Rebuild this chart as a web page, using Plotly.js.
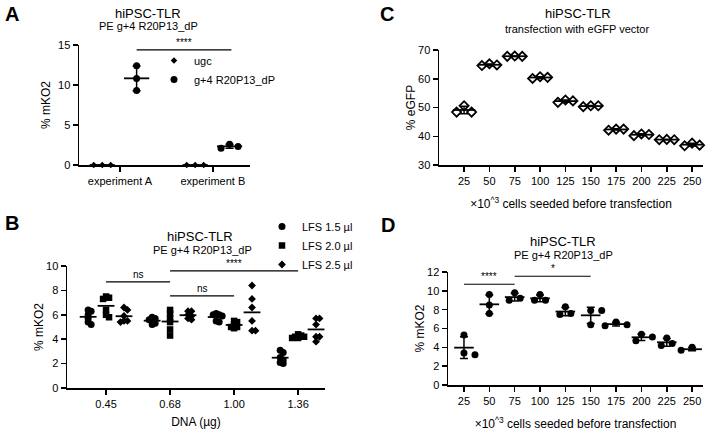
<!DOCTYPE html>
<html><head><meta charset="utf-8">
<script src="https://cdn.plot.ly/plotly-3.0.1.min.js"></script>
<style>html,body{margin:0;padding:0;background:#fff}#chart{width:708px;height:431px}</style>
</head><body><div id="chart"></div>
<script>
// ---------- DATA ----------
// Panel A
const aCategories = ['experiment A', 'experiment B'];
const aUgc = [[0, 0, 0], [0, 0, 0]];
const aG4 = [[12.4, 10.8, 9.3], [2.1, 2.6, 2.3]];
// Panel B
const bCategories = ['0.45', '0.68', '1.00', '1.36'];
const bLFS15 = [[6.4, 6.3, 6.0, 5.7, 5.4, 5.2], [5.8, 5.7, 5.6, 5.5, 5.3, 5.2], [6.1, 6.0, 6.0, 5.9, 5.5, 5.4], [3.1, 2.9, 2.5, 2.3, 2.1, 2.0]];
const bLFS20 = [[7.5, 7.4, 7.3, 6.4, 6.0, 5.8], [6.4, 6.1, 5.7, 5.4, 4.8, 4.3], [5.5, 5.4, 5.2, 5.0, 5.0, 4.9], [4.4, 4.3, 4.2, 4.2, 4.1, 4.1]];
const bLFS25 = [[6.6, 6.4, 5.9, 5.5, 5.5, 5.4], [6.3, 6.3, 6.0, 5.9, 5.7, 5.6], [8.4, 7.3, 6.6, 5.5, 4.7, 4.7], [5.7, 5.7, 5.2, 4.2, 4.2, 3.8]];
// Panel C
const cCategories = ['25', '50', '75', '100', '125', '150', '175', '200', '225', '250'];
const cEGFP = [[48.4, 50.6, 48.4], [64.6, 65.2, 64.8], [67.8, 67.9, 67.8], [60.1, 60.7, 60.5], [51.8, 52.6, 52.3], [50.3, 50.6, 50.6], [42.1, 42.5, 42.5], [40.2, 40.8, 40.6], [38.8, 38.9, 38.8], [36.7, 37.6, 36.9]];
// Panel D
const dCategories = ['25', '50', '75', '100', '125', '150', '175', '200', '225', '250'];
const dMKO2 = [[5.3, 3.2, 3.4], [9.6, 8.5, 7.6], [9.8, 9.0, 9.2], [9.6, 9.0, 9.0], [8.3, 7.5, 7.6], [7.9, 7.9, 6.4], [6.7, 6.3, 6.4], [5.4, 5.1, 4.7], [5.0, 4.2, 4.4], [4.0, 3.7, 3.7]];

// ---------- HELPERS ----------
const W = 708, H = 431;
const FONT = 'Arial, "Liberation Sans", sans-serif';
const mean = a => a.reduce((s, v) => s + v, 0) / a.length;
const sd = a => { const m = mean(a); return Math.sqrt(a.reduce((s, v) => s + (v - m) * (v - m), 0) / (a.length - 1)); };

const ax = {
  x:  {dom: [79, 250],  range: [-0.44, 1.40]},
  y:  {dom: [165, 45],  range: [0, 15]},
  x2: {dom: [67, 325],  range: [-0.61, 3.42]},
  y2: {dom: [388, 266], range: [0, 10]},
  x3: {dom: [439, 703], range: [-0.99, 9.43]},
  y3: {dom: [165, 50],  range: [30, 70]},
  x4: {dom: [448, 703], range: [-0.63, 9.43]},
  y4: {dom: [385, 272], range: [0, 12]}
};
const pxPerX = k => (ax[k].dom[1] - ax[k].dom[0]) / (ax[k].range[1] - ax[k].range[0]);
const pxPerY = k => (ax[k].dom[0] - ax[k].dom[1]) / (ax[k].range[1] - ax[k].range[0]);

// simple beeswarm placement in pixel space
function swarm(vals, center, xk, yk, diam, step) {
  const px = pxPerX(xk), py = pxPerY(yk);
  const order = vals.map((v, i) => i).sort((a, b) => vals[b] - vals[a]);
  const placed = [], xs = new Array(vals.length);
  const cands = [0];
  for (let j = 1; j < 12; j++) cands.push(j * step, -j * step);
  for (const i of order) {
    const yp = vals[i] * py;
    let off = 0;
    for (const c of cands) {
      if (placed.every(p => Math.hypot(p.x - c, p.y - yp) >= diam)) { off = c; break; }
    }
    placed.push({x: off, y: yp});
    xs[i] = center + off / px;
  }
  return xs;
}

const traces = [];
function addGroup(groups, offset, xk, yk, opt) {
  const X = [], Y = [];
  groups.forEach((g, ci) => {
    const xs = swarm(g, ci + offset, xk, yk, opt.diam, opt.step);
    X.push(...xs); Y.push(...g);
  });
  const pts = {
    type: 'scatter', mode: 'markers', x: X, y: Y, xaxis: xk, yaxis: yk, cliponaxis: false,
    showlegend: !!opt.name, marker: opt.marker, hoverinfo: 'y'
  };
  if (opt.name) { pts.name = opt.name; pts.legend = opt.legend; }
  traces.push(pts);
  const mx = groups.map((g, ci) => ci + offset);
  const my = groups.map(mean);
  const tr = {
    type: 'scatter', mode: 'markers', x: mx, y: my, xaxis: xk, yaxis: yk, cliponaxis: false,
    showlegend: false, hoverinfo: 'y',
    marker: {symbol: 'line-ew', size: opt.meanW, line: {width: 1.8, color: '#000'}}
  };
  if (opt.sd) tr.error_y = {type: 'data', array: groups.map(sd), visible: true, color: '#000', thickness: 1.5, width: opt.cap};
  traces.push(tr);
}

// Panel A
addGroup(aUgc, -0.19, 'x', 'y', {diam: 6, step: 8.5, name: 'ugc', legend: 'legend', meanW: 18, sd: true, cap: 4,
  marker: {symbol: 'diamond', size: 5, color: '#000'}});
addGroup(aG4, 0.18, 'x', 'y', {diam: 6, step: 8.5, name: 'g+4 R20P13_dP', legend: 'legend', meanW: 18, sd: true, cap: 4,
  marker: {symbol: 'circle', size: 7, color: '#000'}});
// Panel B
addGroup(bLFS15, -0.28, 'x2', 'y2', {diam: 3, step: 3, name: 'LFS 1.5 µl', legend: 'legend2', meanW: 12, sd: false,
  marker: {symbol: 'circle', size: 7, color: '#000'}});
addGroup(bLFS20, 0, 'x2', 'y2', {diam: 3, step: 3, name: 'LFS 2.0 µl', legend: 'legend2', meanW: 12, sd: false,
  marker: {symbol: 'square', size: 6.5, color: '#000'}});
addGroup(bLFS25, 0.28, 'x2', 'y2', {diam: 3, step: 3.5, name: 'LFS 2.5 µl', legend: 'legend2', meanW: 12, sd: false,
  marker: {symbol: 'diamond', size: 6, color: '#000'}});
// Panel C
addGroup(cEGFP, 0, 'x3', 'y3', {diam: 7, step: 7.5, meanW: 16, sd: true, cap: 4,
  marker: {symbol: 'diamond', size: 7, color: '#fff', line: {color: '#000', width: 1.8}}});
// Panel D
addGroup(dMKO2, 0, 'x4', 'y4', {diam: 7, step: 5.5, meanW: 14, sd: true, cap: 4,
  marker: {symbol: 'circle', size: 7, color: '#000'}});

// ---------- LAYOUT ----------
function xAxis(k, cats, anchor, title, standoff) {
  const o = {
    domain: [ax[k].dom[0] / W, ax[k].dom[1] / W], range: ax[k].range, anchor: anchor,
    tickmode: 'array', tickvals: cats.map((c, i) => i), ticktext: cats,
    showline: true, linecolor: '#000', linewidth: 1.5, ticks: 'outside', ticklen: 5, tickwidth: 1.5, tickcolor: '#000',
    showgrid: false, zeroline: false, fixedrange: true,
    tickfont: {family: FONT, size: 11, color: '#000'}
  };
  if (title) o.title = {text: title, font: {family: FONT, size: 12, color: '#000'}, standoff: standoff};
  return o;
}
function yAxis(k, anchor, dtick, title, standoff) {
  return {
    domain: [1 - ax[k].dom[0] / H, 1 - ax[k].dom[1] / H], range: ax[k].range, anchor: anchor,
    dtick: dtick, tick0: 0,
    showline: true, linecolor: '#000', linewidth: 1.5, ticks: 'outside', ticklen: 5, tickwidth: 1.5, tickcolor: '#000',
    showgrid: false, zeroline: false, fixedrange: true,
    tickfont: {family: FONT, size: 11, color: '#000'},
    title: {text: title, font: {family: FONT, size: 12, color: '#000'}, standoff: standoff}
  };
}

function txt(x, y, text, size, opts) {
  return Object.assign({xref: 'paper', yref: 'paper', x: x / W, y: 1 - y / H, text: text, showarrow: false,
    font: {family: FONT, size: size, color: '#000'}, xanchor: 'center', yanchor: 'middle'}, opts || {});
}
function star(xr, yr, x, y, text) {
  return {xref: xr, yref: yr, x: x, y: y, text: text, showarrow: false, yanchor: 'bottom',
    font: {family: FONT, size: 10, color: '#000'}};
}
function bar(xr, yr, x0, x1, y) {
  return {type: 'line', xref: xr, yref: yr, x0: x0, x1: x1, y0: y, y1: y, line: {color: '#000', width: 1.2}};
}

const layout = {
  width: W, height: H, margin: {l: 0, r: 0, t: 0, b: 0},
  paper_bgcolor: '#fff', plot_bgcolor: 'rgba(0,0,0,0)',
  font: {family: FONT, color: '#000'},
  xaxis: xAxis('x', aCategories, 'y'),
  yaxis: yAxis('y', 'x', 5, '% mKO2', 5),
  xaxis2: xAxis('x2', bCategories, 'y2', 'DNA (µg)', 9),
  yaxis2: yAxis('y2', 'x2', 2, '% mKO2', 0),
  xaxis3: xAxis('x3', cCategories, 'y3', '×10<sup>^3</sup> cells seeded before transfection', 14),
  yaxis3: yAxis('y3', 'x3', 10, '% eGFP', 0),
  xaxis4: xAxis('x4', dCategories, 'y4', '×10<sup>^3</sup> cells seeded before transfection', 15),
  yaxis4: yAxis('y4', 'x4', 2, '% mKO2', 0),
  legend: {x: 154 / W, y: 1 - 46 / H, xanchor: 'left', yanchor: 'top', bgcolor: 'rgba(0,0,0,0)',
    font: {family: FONT, size: 11, color: '#000'}, itemclick: false, itemdoubleclick: false},
  legend2: {x: 262 / W, y: 1 - 212 / H, xanchor: 'left', yanchor: 'top', bgcolor: 'rgba(0,0,0,0)',
    font: {family: FONT, size: 11, color: '#000'}, itemclick: false, itemdoubleclick: false},
  shapes: [
    bar('x', 'y', 0.18, 1.2, 14.4),
    bar('x2', 'y2', 0, 1, 8.7),
    bar('x2', 'y2', 1, 3, 9.6),
    bar('x2', 'y2', 1, 2, 7.55),
    bar('x4', 'y4', 0, 2, 10.7),
    bar('x4', 'y4', 2, 5, 11.55)
  ],
  annotations: [
    txt(12, 14, '<b>A</b>', 20),
    txt(12, 223, '<b>B</b>', 20),
    txt(387, 14, '<b>C</b>', 20),
    txt(388, 225, '<b>D</b>', 20),
    txt(148, 13, 'hiPSC-TLR', 13),
    txt(148, 26, 'PE g+4 R20P13_dP', 11),
    txt(200, 236, 'hiPSC-TLR', 13),
    txt(202, 249.5, 'PE g+4 R20P13_dP', 11),
    txt(578, 14, 'hiPSC-TLR', 13),
    txt(577, 29, 'transfection with eGFP vector', 11),
    txt(563, 241, 'hiPSC-TLR', 13),
    txt(563, 254.5, 'PE g+4 R20P13_dP', 11),
    star('x', 'y', 0.69, 14.4, '****'),
    star('x2', 'y2', 0.5, 8.7, 'ns'),
    star('x2', 'y2', 2, 9.6, '****'),
    star('x2', 'y2', 1.5, 7.55, 'ns'),
    star('x4', 'y4', 1, 10.7, '****'),
    star('x4', 'y4', 3.5, 11.55, '*')
  ]
};

Plotly.newPlot('chart', traces, layout, {displayModeBar: false, staticPlot: true});
</script>
</body></html>
